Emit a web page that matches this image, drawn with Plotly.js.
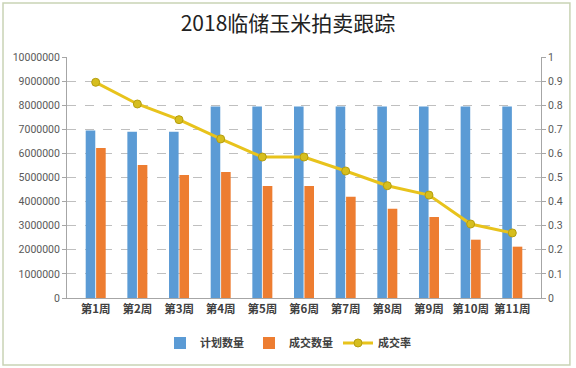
<!DOCTYPE html>
<html>
<head>
<meta charset="utf-8">
<script src="https://cdn.plot.ly/plotly-3.0.1.min.js"></script>
<style>html,body{margin:0;padding:0;background:#fff;}#chart{width:576px;height:368px;}</style>
</head>
<body>
<div id="chart"></div>
<script>
var weeks = ['第1周','第2周','第3周','第4周','第5周','第6周','第7周','第8周','第9周','第10周','第11周'];
var planned = [6950000, 6900000, 6900000, 7950000, 7950000, 7950000, 7950000, 7950000, 7950000, 7950000, 7950000];
var traded = [6220000, 5520000, 5100000, 5230000, 4650000, 4650000, 4200000, 3700000, 3360000, 2420000, 2130000];
var rate = [0.895, 0.805, 0.74, 0.66, 0.585, 0.585, 0.527, 0.466, 0.427, 0.307, 0.27];
var names = ['计划数量', '成交数量', '成交率'];

var font = 'Roboto, "Noto Sans CJK SC", sans-serif';
var traces = [
  {type:'bar', x:weeks, y:planned, name:names[0], marker:{color:'#5B9BD5'}},
  {type:'bar', x:weeks, y:traded, name:names[1], marker:{color:'#ED7D31'}},
  {type:'scatter', mode:'lines+markers', x:weeks, y:rate, name:names[2], yaxis:'y2',
   line:{color:'#E8C31C', width:3},
   marker:{color:'#D6BE1E', size:8, line:{color:'#B59E10', width:1}}}
];
var layout = {
  width:576, height:368,
  margin:{l:67, r:35, t:57, b:70, autoexpand:false},
  paper_bgcolor:'#fff', plot_bgcolor:'#fff',
  title:{text:'2018临储玉米拍卖跟踪', x:0.5, xanchor:'center', y:0.935, yanchor:'middle',
         font:{family:'"Noto Sans CJK SC", sans-serif', size:21, color:'#222'}},
  barmode:'group', bargap:0.5, bargroupgap:0.08,
  showlegend:true,
  legend:{orientation:'h', x:0.5, xanchor:'center', xref:'container', yref:'container', y:0.068, yanchor:'middle',
          font:{family:'"Noto Sans CJK SC", sans-serif', size:11, color:'#404040', weight:'bold'},
          traceorder:'normal'},
  xaxis:{type:'category', showline:true, linecolor:'#A6A6A6', ticks:'',
         tickfont:{family:'"Noto Sans CJK SC", sans-serif', size:11.5, color:'#404040', weight:'bold'}},
  yaxis:{range:[0,10000000], dtick:1000000, tickformat:'d', showline:true, linecolor:'#A6A6A6',
         ticks:'outside', ticklen:4, tickcolor:'#A6A6A6',
         gridcolor:'#BFBFBF', griddash:'dash', gridwidth:1, zeroline:false,
         tickfont:{family:font, size:10.5, color:'#595959'}},
  yaxis2:{range:[0,1], dtick:0.1, overlaying:'y', side:'right', showline:true, linecolor:'#A6A6A6',
          ticks:'outside', ticklen:4, tickcolor:'#A6A6A6', showgrid:false, zeroline:false,
          tickfont:{family:font, size:10.5, color:'#595959'}},
  shapes:[{type:'rect', xref:'paper', yref:'paper', x0:-0.135, x1:1.061, y0:-0.278, y1:1.224,
           line:{color:'#C9D3B5', width:1.5}}]
};
Plotly.newPlot('chart', traces, layout, {displayModeBar:false, staticPlot:true});
</script>
</body>
</html>
